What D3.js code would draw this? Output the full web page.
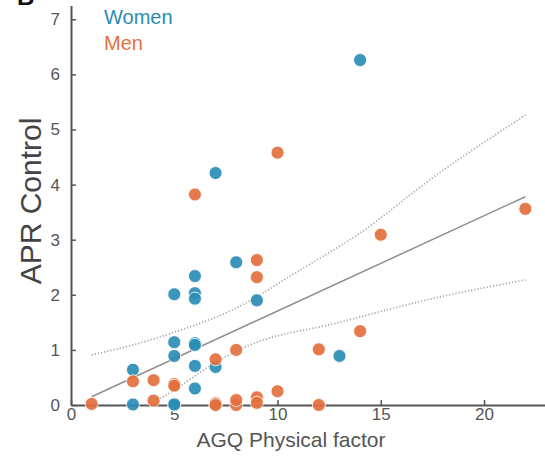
<!DOCTYPE html>
<html lang="en">
<head>
    <meta charset="UTF-8">
    <title>APR Control vs AGQ Physical factor</title>
    <script src="https://cdn.jsdelivr.net/npm/d3@7"></script>
    <style>
        body { margin: 0; background: #fff; }
        svg { display: block; font-family: "Liberation Sans", Arial, sans-serif; }
        .tick text { fill: #555; font-size: 17px; }
    </style>
</head>
<body>
    <svg width="545" height="467"></svg>

    <script>
        // Women: [AGQ physical factor, APR control]
        const women = [
            [14, 6.26], [7, 4.21], [8, 2.59], [6, 2.34], [5, 2.01], [6, 2.03], [6, 1.93],
            [9, 1.90], [5, 1.14], [6, 1.12], [6, 1.09], [5, 0.89], [6, 0.71], [3, 0.64],
            [7, 0.69], [6, 0.30], [3, 0.01], [5, 0.02], [5, 0.0], [5, 0.01], [7, 0.0], [13, 0.89]
        ];
        // Men
        const men = [
            [22, 3.56], [10, 4.58], [6, 3.82], [15, 3.09], [9, 2.63], [9, 2.32], [14, 1.34],
            [12, 1.01], [8, 1.00], [7, 0.83], [3, 0.43], [4, 0.45], [5, 0.38], [5, 0.35],
            [1, 0.02], [4, 0.08], [7, 0.03], [7, 0.0], [8, 0.0], [8, 0.09], [9, 0.14],
            [9, 0.04], [10, 0.25], [12, 0.0]
        ];
        // fitted line and confidence bounds
        const fitLine = [[1, 0.15], [22, 3.78]];
        const upperCI = [[1, 0.91], [3, 1.09], [5, 1.32], [8, 1.76], [11, 2.43], [14, 3.12], [17.5, 4.12], [22, 5.26]];
        const lowerCI = [[3.6, 0.0], [4.3, 0.12], [7, 0.77], [8.3, 1.03], [13, 1.50], [17.5, 1.93], [22, 2.27]];

        const xTicks = [0, 5, 10, 15, 20];
        const yTicks = [0, 1, 2, 3, 4, 5, 6, 7];
        const legend = [["Women", "#2b8cb4"], ["Men", "#e3703d"]];

        const svg = d3.select("svg");

        const x = d3.scaleLinear().domain([0, 23]).range([71, 546]);
        const y = d3.scaleLinear().domain([0, 7.25]).range([405, 5.5]);

        // Y axis (ticks point inward)
        const yAxis = svg.append("g")
            .attr("transform", `translate(${x(0)},0)`)
            .call(d3.axisLeft(y).tickValues(yTicks).tickSizeInner(-5).tickSizeOuter(0).tickPadding(11));
        yAxis.select(".domain").attr("stroke", "#555").attr("stroke-width", 2);
        yAxis.selectAll(".tick line").attr("stroke", "#555").attr("stroke-width", 1.5);

        // X axis
        const xAxis = svg.append("g")
            .attr("transform", `translate(0,${y(0)})`)
            .call(d3.axisBottom(x).tickValues(xTicks).tickSizeInner(-5).tickSizeOuter(0).tickPadding(3));
        xAxis.select(".domain").attr("stroke", "#555").attr("stroke-width", 2);
        xAxis.selectAll(".tick line").attr("stroke", "#555").attr("stroke-width", 1.5);
        xAxis.selectAll(".tick text").attr("font-size", "18px");

        // Regression line and CI
        const line = d3.line().x(d => x(d[0])).y(d => y(d[1]));
        const curve = d3.line().x(d => x(d[0])).y(d => y(d[1])).curve(d3.curveMonotoneX);

        [upperCI, lowerCI].forEach(ci => {
            svg.append("path")
                .datum(ci)
                .attr("d", curve)
                .attr("fill", "none")
                .attr("stroke", "#a5a5a5")
                .attr("stroke-width", 1.7)
                .attr("stroke-dasharray", "1.2 2");
        });

        svg.append("path")
            .datum(fitLine)
            .attr("d", line)
            .attr("fill", "none")
            .attr("stroke", "#8f8f8f")
            .attr("stroke-width", 1.5);

        // Points
        [[women, legend[0][1]], [men, legend[1][1]]].forEach(([data, color]) => {
            svg.append("g")
                .selectAll("circle")
                .data(data)
                .join("circle")
                .attr("cx", d => x(d[0]))
                .attr("cy", d => y(d[1]))
                .attr("r", 6.5)
                .attr("fill", color)
                .attr("fill-opacity", 0.92)
                .attr("stroke", "#fff")
                .attr("stroke-opacity", 0.8)
                .attr("stroke-width", 1);
        });

        // Legend
        svg.append("g")
            .selectAll("text")
            .data(legend)
            .join("text")
            .attr("x", 104)
            .attr("y", (d, i) => 24 + i * 26)
            .attr("fill", d => d[1])
            .attr("font-size", "20px")
            .text(d => d[0]);

        // Axis titles
        svg.append("text")
            .attr("transform", "translate(41,201) rotate(-90)")
            .attr("text-anchor", "middle")
            .attr("fill", "#444")
            .attr("font-size", "30px")
            .text("APR Control");

        svg.append("text")
            .attr("x", 291)
            .attr("y", 447)
            .attr("text-anchor", "middle")
            .attr("fill", "#555")
            .attr("font-size", "21px")
            .text("AGQ Physical factor");

        // Panel letter (cut off at top, as in the figure)
        svg.append("text")
            .attr("x", 17)
            .attr("y", 5)
            .attr("font-weight", "bold")
            .attr("font-size", "24px")
            .attr("fill", "#111")
            .text("B");
    </script>
</body>
</html>
